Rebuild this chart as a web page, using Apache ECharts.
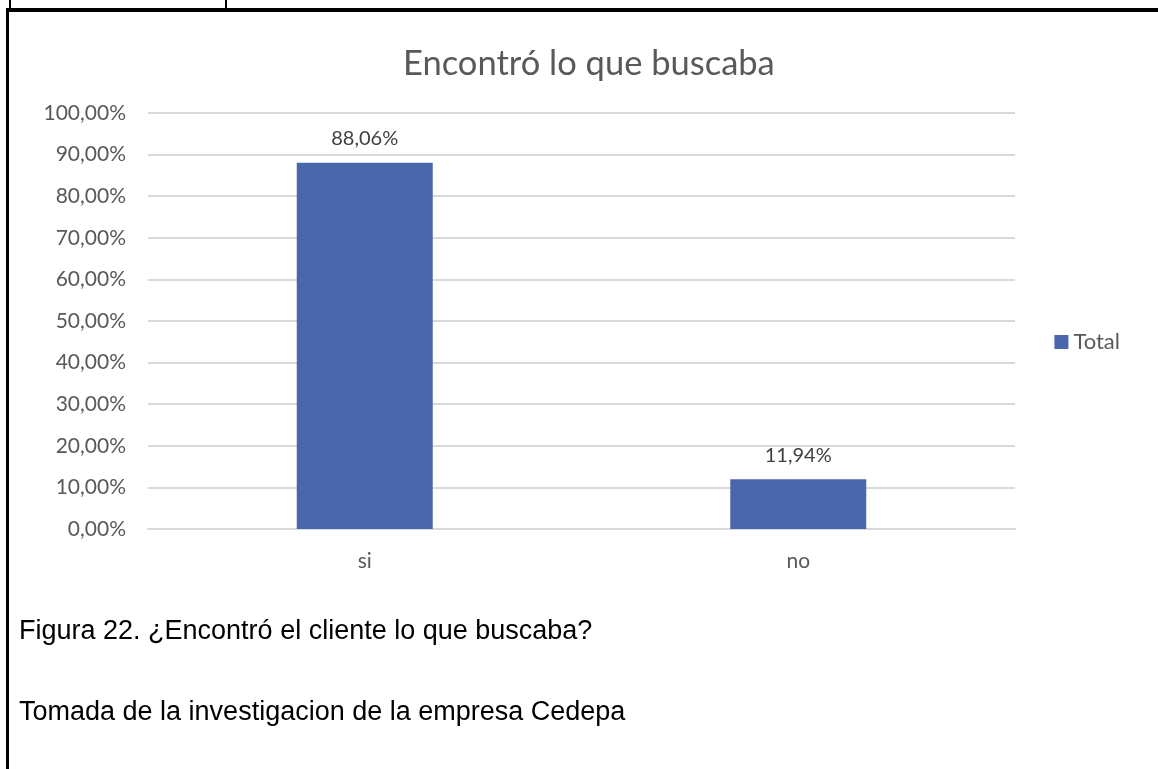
<!DOCTYPE html>
<html><head><meta charset="utf-8">
<script src="https://cdn.jsdelivr.net/npm/echarts@6/dist/echarts.min.js"></script>
<style>html,body{margin:0;padding:0;background:#fff}#c{width:1158px;height:769px}</style>
</head><body><div id="c"></div>
<script>
const categories = ['si', 'no'];
const totalValues = [88.06, 11.94];
const seriesName = 'Total';
const titleText = 'Encontró lo que buscaba';
const caption1 = 'Figura 22. ¿Encontró el cliente lo que buscaba?';
const caption2 = 'Tomada de la investigacion de la empresa Cedepa';

const fmt = v => v.toFixed(2).replace('.', ',') + '%';
const chart = echarts.init(document.getElementById('c'), null, {renderer: 'canvas'});
chart.setOption({
  animation: false,
  backgroundColor: '#fff',
  title: {text: titleText, left: 398, top: 41, textStyle: {fontFamily: 'Lato', fontSize: 34.5, fontWeight: 'normal', color: '#595959'}},
  grid: {left: 148, right: 143, top: 113, bottom: 240},
  legend: {data: [seriesName], right: 33, top: 326, itemWidth: 14, itemHeight: 14, icon: 'rect', itemGap: 6,
    textStyle: {fontFamily: 'Lato', fontSize: 22, color: '#595959'}},
  xAxis: {type: 'category', data: categories, axisLine: {lineStyle: {color: '#d9d9d9', width: 2}}, axisTick: {show: false},
    axisLabel: {fontFamily: 'Lato', fontSize: 21, color: '#595959', margin: 22}},
  yAxis: {type: 'value', min: 0, max: 100, interval: 10, axisLabel: {formatter: fmt, fontFamily: 'Lato', fontSize: 21, color: '#595959', margin: 22},
    splitLine: {lineStyle: {color: '#d9d9d9', width: 2}}, axisLine: {show: false}, axisTick: {show: false}},
  series: [{name: seriesName, type: 'bar', data: totalValues, barWidth: 136, itemStyle: {color: '#4a66ac'},
    label: {show: true, position: 'top', distance: 14, formatter: p => fmt(p.value), fontFamily: 'Lato', fontSize: 20, color: '#404040'}}],
  graphic: [
    {type: 'rect', shape: {x: 6, y: 8, width: 1160, height: 4}, style: {fill: '#000'}},
    {type: 'rect', shape: {x: 6, y: 8, width: 3, height: 770}, style: {fill: '#000'}},
    {type: 'rect', shape: {x: 9, y: 0, width: 2, height: 9}, style: {fill: '#000'}},
    {type: 'rect', shape: {x: 225, y: 0, width: 2, height: 9}, style: {fill: '#000'}},
    {type: 'text', left: 19, top: 618, style: {text: caption1, fontFamily: 'Liberation Sans', fontSize: 27, fill: '#000'}},
    {type: 'text', left: 19, top: 699, style: {text: caption2, fontFamily: 'Liberation Sans', fontSize: 27, fill: '#000'}}
  ]
});
</script></body></html>
